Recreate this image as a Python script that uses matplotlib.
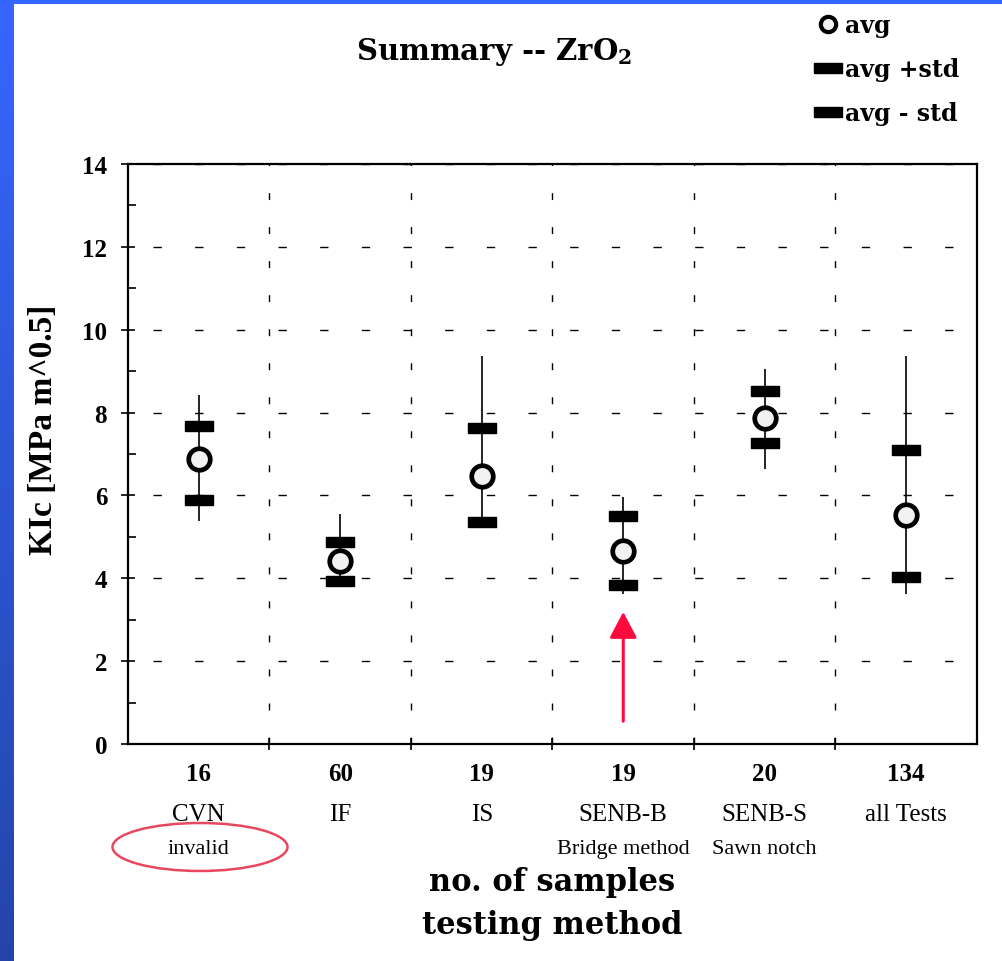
import numpy as np
import matplotlib
matplotlib.use("Agg")
import matplotlib.pyplot as plt
from matplotlib.patches import Ellipse, Rectangle
from matplotlib.ticker import MultipleLocator

# values
methods = ["CVN", "IF", "IS", "SENB-B", "SENB-S", "all Tests"]
counts = ["16", "60", "19", "19", "20", "134"]
notes = ["invalid", "", "", "Bridge method", "Sawn notch", ""]
avg = [6.88, 4.42, 6.47, 4.66, 7.87, 5.53]
avg_plus = [7.68, 4.87, 7.63, 5.51, 8.51, 7.10]
avg_minus = [5.90, 3.93, 5.37, 3.84, 7.26, 4.03]
low = [5.39, 3.79, 5.33, 3.62, 6.63, 3.62]
high = [8.42, 5.55, 9.37, 5.96, 9.04, 9.36]

plt.rcParams["mathtext.fontset"] = "dejavuserif"

W, H = 1003, 962
fig = plt.figure(figsize=(W / 100, H / 100), dpi=100)
fig.patch.set_facecolor("white")

# slide border: blue gradient strip on the left, blue strip on top
grad = np.linspace(0, 1, 256)[:, None]
top_c = np.array([0.21, 0.40, 1.00])
bot_c = np.array([0.14, 0.27, 0.66])
img = (top_c * (1 - grad) + bot_c * grad)[:, None, :]
bax = fig.add_axes([0, 0, 14 / W, 1])
bax.imshow(img, aspect="auto", extent=[0, 1, 0, 1])
bax.axis("off")
fig.add_artist(Rectangle((0, 1 - 5 / H), 1, 5 / H, transform=fig.transFigure,
                         color="#3366ff", lw=0))

ax = fig.add_axes([128 / W, (H - 745) / H, 849 / W, 580 / H])
x = np.arange(len(methods)) + 0.5

ax.vlines(x, low, high, color="black", lw=1.2, zorder=3)
rect = [(-1.5, -0.5), (1.5, -0.5), (1.5, 0.5), (-1.5, 0.5), (-1.5, -0.5)]
ax.plot(x, avg_plus, ls="none", marker=rect, ms=20, color="black",
        label="avg +std", zorder=4)
ax.plot(x, avg_minus, ls="none", marker=rect, ms=20, color="black",
        label="avg - std", zorder=4)
ax.plot(x, avg, ls="none", marker="o", ms=15.5, mfc="#f2f2f2", mec="black",
        mew=3.4, label="avg", zorder=5)

ax.set_xlim(0, 6)
ax.set_ylim(0, 14)
ax.yaxis.set_major_locator(MultipleLocator(2))
ax.yaxis.set_minor_locator(MultipleLocator(1))
ax.set_xticks([1, 2, 3, 4, 5])
ax.set_xticklabels([])
ax.set_xticks(x, minor=True)
ax.set_xticklabels(counts, minor=True, family="Liberation Serif",
                   fontweight="bold", fontsize=18)
ax.tick_params(axis="x", which="minor", length=0, pad=13)
ax.tick_params(axis="x", which="major", direction="inout", length=8, width=1.2)
ax.tick_params(axis="y", which="major", direction="inout", length=10, width=1.2,
               pad=10)
ax.tick_params(axis="y", which="minor", direction="in", length=6, width=1.2)
for lab in ax.get_yticklabels():
    lab.set_family("Liberation Serif")
    lab.set_fontweight("bold")
    lab.set_fontsize(18)
for sp in ax.spines.values():
    sp.set_linewidth(1.6)

ax.grid(True, axis="y", which="major", color="black", lw=1.0,
        ls=(12, (6, 24)))
ax.grid(True, axis="x", which="major", color="black", lw=1.0,
        ls=(0, (5, 19.5)))

tr = ax.get_xaxis_transform()
for xi, m, n in zip(x, methods, notes):
    ax.text(xi, -0.1207, m, transform=tr, ha="center", va="center",
            family="Liberation Serif", fontsize=18)
    if n:
        ax.text(xi, -0.181, n, transform=tr, ha="center", va="center",
                family="Liberation Serif", fontsize=16)

ax.set_xlabel("no. of samples\ntesting method", family="DejaVu Serif",
              fontweight="bold", fontsize=22, linespacing=1.5)
ax.xaxis.set_label_coords(0.5, -0.211)
ax.set_ylabel("KIc [MPa m^0.5]", family="Liberation Serif", fontweight="bold",
              fontsize=24, va="center")
ax.yaxis.set_label_coords(-0.1, 0.543)

fig.text(0.493, 1 - 52 / H, r"Summary -- ZrO$_\mathbf{2}$", ha="center",
         va="center", family="DejaVu Serif", fontweight="bold", fontsize=21)

handles, labels = ax.get_legend_handles_labels()
order = [2, 0, 1]
leg = ax.legend([handles[i] for i in order], [labels[i] for i in order],
                loc="upper left", bbox_to_anchor=(804 / W, 1 - 2 / H),
                bbox_transform=fig.transFigure, frameon=False, numpoints=1,
                handlelength=1.0, handletextpad=0.25, labelspacing=0.85,
                borderpad=0, prop={"family": "DejaVu Serif", "weight": "bold",
                                   "size": 17})
leg.legend_handles[0].set_markersize(11)
leg.legend_handles[0].set_markeredgewidth(3)

# annotations on the slide
fig.add_artist(Ellipse((200 / W, 1 - 848 / H), 175 / W, 48 / H,
                       transform=fig.transFigure, fill=False,
                       ec="#e8485e", lw=1.8))
ax.annotate("", xy=(x[3], 3.19), xytext=(x[3], 0.55),
            arrowprops=dict(arrowstyle="-|>,head_width=0.42,head_length=0.8",
                            mutation_scale=20, color="#ff0a3c", lw=2.2,
                            shrinkA=0, shrinkB=0))

fig.savefig("out.png", dpi=100)
